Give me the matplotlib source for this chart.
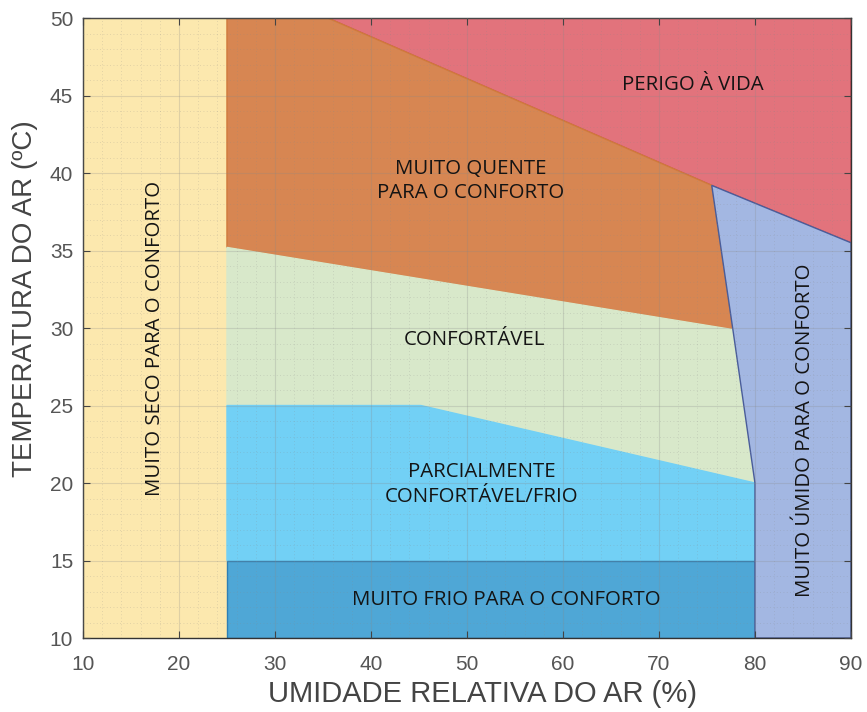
import matplotlib
matplotlib.use("Agg")
import matplotlib.pyplot as plt
from matplotlib.patches import Polygon
from matplotlib.ticker import MultipleLocator

# Region boundaries (humidity %, temperature °C)
seco_x = [10, 25, 25, 10]
seco_y = [10, 10, 50, 50]
perigo_x = [35.5, 90, 90, 75.5]
perigo_y = [50, 50, 35.5, 39.2]
quente_x = [25, 35.5, 75.5, 77.7, 25]
quente_y = [50, 50, 39.2, 29.9, 35.2]
conf_x = [25, 77.7, 80, 45.2, 25]
conf_y = [35.2, 29.9, 20, 25, 25]
parc_x = [25, 45.2, 80, 80, 25]
parc_y = [25, 25, 20, 15, 15]
frio_x = [25, 80, 80, 25]
frio_y = [15, 15, 10, 10]
umido_x = [75.5, 90, 90, 80, 80, 77.7]
umido_y = [39.2, 35.5, 10, 10, 20, 29.9]

labels = ["MUITO SECO PARA O CONFORTO", "PERIGO À VIDA", "MUITO QUENTE\nPARA O CONFORTO",
          "CONFORTÁVEL", "PARCIALMENTE\nCONFORTÁVEL/FRIO", "MUITO FRIO PARA O CONFORTO",
          "MUITO ÚMIDO PARA O CONFORTO"]
label_x = [17.5, 73.5, 50.4, 50.8, 51.5, 54.1, 85.2]
label_y = [29.3, 45.7, 39.5, 29.2, 19.9, 12.45, 23.4]
label_rot = [90, 0, 0, 0, 0, 0, 90]

xticks = [10, 20, 30, 40, 50, 60, 70, 80, 90]
yticks = [10, 15, 20, 25, 30, 35, 40, 45, 50]

fig = plt.figure(figsize=(8.67, 7.12), dpi=100)
ax = fig.add_axes([0.0957, 0.1039, 0.8858, 0.8708])

regions = [
    (seco_x, seco_y, "#fce8ae", "#fce8ae"),
    (perigo_x, perigo_y, "#e2737c", "#c84b55"),
    (quente_x, quente_y, "#d78652", "#d07a3c"),
    (conf_x, conf_y, "#d8e8ca", "#d8e8ca"),
    (parc_x, parc_y, "#72d0f5", "#72d0f5"),
    (frio_x, frio_y, "#4fa7d6", "#2e7fb5"),
    (umido_x, umido_y, "#a3b7e2", "#4a5d9a"),
]
for xs, ys, fc, ec in regions:
    ax.add_patch(Polygon(list(zip(xs, ys)), closed=True, facecolor=fc,
                         edgecolor=ec, linewidth=1.0, zorder=1))

for t, x, y, r in zip(labels, label_x, label_y, label_rot):
    ax.text(x, y, t, rotation=r, ha="center", va="center", fontsize=14.7,
            family="Open Sans", color="#141414", linespacing=1.3, zorder=3)

ax.set_xlim(10, 90)
ax.set_ylim(10, 50)
ax.set_xticks(xticks)
ax.set_yticks(yticks)
ax.xaxis.set_minor_locator(MultipleLocator(2))
ax.yaxis.set_minor_locator(MultipleLocator(1))
ax.grid(True, which="major", color="#888888", alpha=0.25, linewidth=0.8, zorder=2)
ax.grid(True, which="minor", color="#888888", alpha=0.3, linewidth=0.6,
        linestyle=(0, (1, 3)), zorder=2)
ax.set_axisbelow(False)
ax.tick_params(which="major", direction="in", top=True, right=True, length=5,
               labelsize=15, labelcolor="#555555", color="#444444")
ax.tick_params(axis="x", which="major", pad=12)
ax.tick_params(axis="y", which="major", pad=7)
ax.tick_params(which="minor", length=0, top=True, right=True)
for lab in ax.get_xticklabels() + ax.get_yticklabels():
    lab.set_family("Liberation Sans")
for s in ax.spines.values():
    s.set_color("#333333")
    s.set_linewidth(1.0)

ax.set_xlabel("UMIDADE RELATIVA DO AR (%)", fontsize=21, color="#444444",
              family="Liberation Sans", va="center")
ax.xaxis.set_label_coords(0.520, -0.09)
ax.set_ylabel("TEMPERATURA DO AR (ºC)", fontsize=20, color="#444444",
              family="Liberation Sans", va="center")
ax.yaxis.set_label_coords(-0.0755, 0.548)

fig.savefig("out.png", dpi=100)
